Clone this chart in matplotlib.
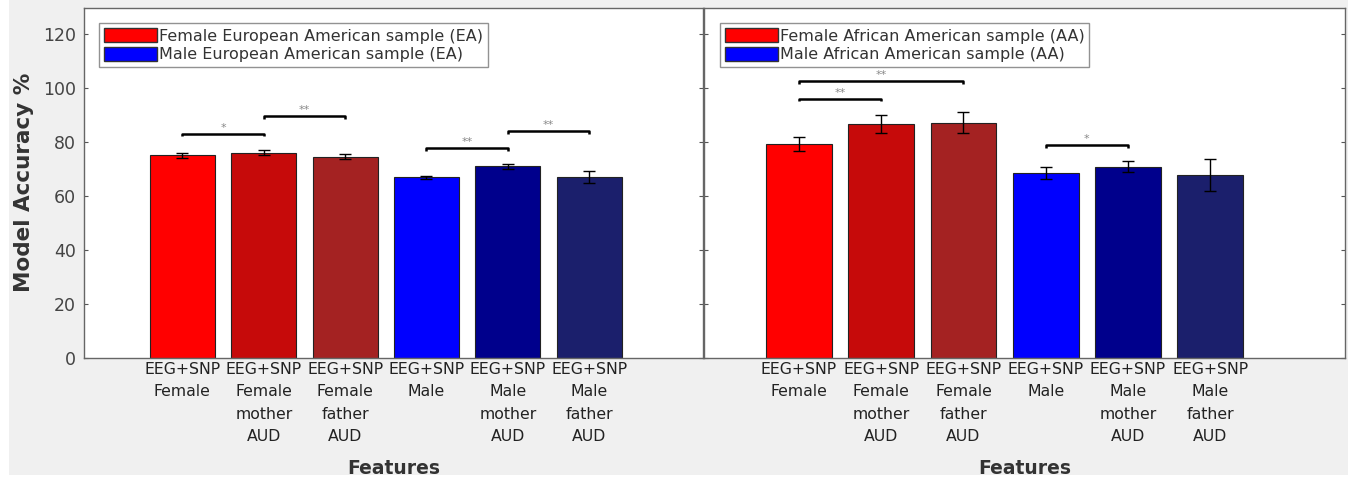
import matplotlib
matplotlib.use("Agg")
import matplotlib.pyplot as plt
from matplotlib.patches import Rectangle, Patch
import numpy as np

# ---------------- data ----------------
tick_labels = ["EEG+SNP\nFemale", "EEG+SNP\nFemale\nmother\nAUD", "EEG+SNP\nFemale\nfather\nAUD",
               "EEG+SNP\nMale", "EEG+SNP\nMale\nmother\nAUD", "EEG+SNP\nMale\nfather\nAUD"]

ea_values = [75.2, 76.2, 74.7, 67.0, 71.1, 67.0]
ea_errors = [1.0, 0.8, 1.0, 0.6, 0.9, 2.2]
aa_values = [79.3, 86.9, 87.3, 68.6, 70.9, 67.8]
aa_errors = [2.7, 3.3, 3.8, 2.3, 2.0, 6.0]

bar_colors = ["#ff0000", "#c60a0a", "#a42222", "#0000ff", "#00008c", "#1b1f6c"]

legend_ea = ["Female European American sample (EA)", "Male European American sample (EA)"]
legend_aa = ["Female African American sample (AA)", "Male African American sample (AA)"]

# significance brackets: (bar i, bar j, height, label)
ea_sig = [(0, 1, 83.2, "*"), (1, 2, 89.7, "**"), (3, 4, 77.9, "**"), (4, 5, 84.2, "**")]
aa_sig = [(0, 2, 102.7, "**"), (0, 1, 96.2, "**"), (3, 4, 78.9, "*")]

ylabel = "Model Accuracy %"
xlabel = "Features"
yticks = [0, 20, 40, 60, 80, 100, 120]

# ---------------- figure ----------------
W, H = 1352, 480
fig = plt.figure(figsize=(W / 100, H / 100), dpi=100, facecolor="white")
fig.patches.append(Rectangle((9 / W, 5 / H), (1348 - 9) / W, 1 - 5 / H,
                             transform=fig.transFigure, facecolor="#f0f0f0",
                             edgecolor="none", zorder=-10))

def fx(px):
    return px / W

def fy(py):
    return 1 - py / H

ax1 = fig.add_axes([fx(84), fy(358), fx(703 - 84), (358 - 7.5) / H])
ax2 = fig.add_axes([fx(704), fy(358), fx(1345 - 704), (358 - 7.5) / H])

x = np.arange(1, len(tick_labels) + 1)

def draw(ax, vals, errs, sig, leg, xlim, show_y):
    ax.bar(x, vals, width=0.8, color=bar_colors, edgecolor="#222222", linewidth=0.8, zorder=2)
    ax.errorbar(x, vals, yerr=errs, fmt="none", ecolor="black", elinewidth=1.0,
                capsize=4, capthick=1.0, zorder=3)
    for i, j, h, lab in sig:
        x1, x2 = x[i], x[j]
        ax.plot([x1, x1, x2, x2], [h - 1.0, h, h, h - 1.0], color="black", lw=1.8,
                solid_capstyle="butt", zorder=4)
        ax.text((x1 + x2) / 2, h + 0.3, lab, ha="center", va="bottom", fontsize=8,
                color="#888888")
    ax.set_ylim(0, 130)
    ax.set_xlim(*xlim)
    ax.set_yticks(yticks)
    ax.set_xticks(x)
    ax.set_xticklabels(tick_labels, fontsize=11.3, color="#222222", linespacing=1.6)
    ax.tick_params(axis="x", length=0, pad=3)
    ax.tick_params(axis="y", direction="in", length=3, right=True, color="#555555",
                   labelsize=12.5, labelcolor="#444444", pad=6)
    if not show_y:
        ax.tick_params(axis="y", labelleft=False)
    for s in ax.spines.values():
        s.set_color("#666666")
        s.set_linewidth(1.0)
    ax.set_xlabel(xlabel, fontsize=13.5, fontweight="bold", color="#333333", labelpad=11)
    handles = [Patch(facecolor=bar_colors[0], edgecolor="#333333"),
               Patch(facecolor=bar_colors[3], edgecolor="#333333")]
    lg = ax.legend(handles, leg, loc="upper left", bbox_to_anchor=(0.025, 0.955),
                   fontsize=11.5, frameon=True, fancybox=False, handlelength=3.3,
                   handleheight=1.0, handletextpad=0.15, borderpad=0.3,
                   labelspacing=0.2, borderaxespad=0.0, labelcolor="#333333")
    lg.get_frame().set_edgecolor("#777777")
    lg.get_frame().set_linewidth(1.0)

draw(ax1, ea_values, ea_errors, ea_sig, legend_ea, (-0.21, 7.40), True)
draw(ax2, aa_values, aa_errors, aa_sig, legend_aa, (-0.156, 7.64), False)

ax1.set_ylabel(ylabel, fontsize=15.5, fontweight="bold", color="#333333", labelpad=6)

fig.savefig("out.png", dpi=100, facecolor=fig.get_facecolor())
